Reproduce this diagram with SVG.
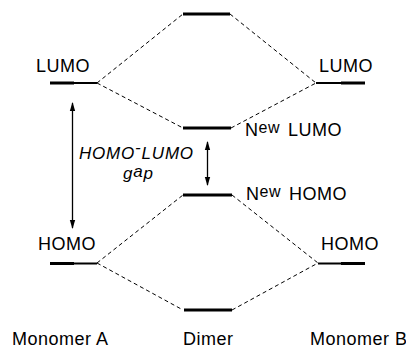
<svg xmlns="http://www.w3.org/2000/svg" width="406" height="349" viewBox="0 0 406 349">
<style>
.t{font-family:"Liberation Sans",Arial,sans-serif;font-size:18px;fill:#000;letter-spacing:0.5px}
.it{font-family:"Liberation Sans",Arial,sans-serif;font-size:17px;font-style:italic;fill:#000;letter-spacing:0.8px}
.lv{stroke:#000;stroke-width:3;fill:none}
.lt{stroke:#000;stroke-width:2;fill:none}
.d{stroke:#000;stroke-width:1;fill:none;stroke-dasharray:4 3}
.ar{stroke:#000;stroke-width:1.3;fill:none}
</style>
<defs>
<marker id="ah" viewBox="0 0 10 10" refX="9" refY="5" markerWidth="9" markerHeight="9" markerUnits="userSpaceOnUse" orient="auto-start-reverse">
<path d="M0,2 L10,5 L0,8 Z" fill="#000"/>
</marker>
</defs>
<g id="connectors">
<line class="d" x1="97" y1="83" x2="183" y2="14"/>
<line class="d" x1="97" y1="83" x2="183" y2="128"/>
<line class="d" x1="230" y1="14" x2="316" y2="83"/>
<line class="d" x1="231" y1="128" x2="316" y2="83"/>
<line class="d" x1="97" y1="263" x2="183" y2="195"/>
<line class="d" x1="97" y1="263" x2="183" y2="310"/>
<line class="d" x1="232" y1="195" x2="318" y2="263"/>
<line class="d" x1="232" y1="310" x2="318" y2="263"/>
<line class="ar" x1="72.5" y1="103" x2="72.5" y2="228" marker-start="url(#ah)" marker-end="url(#ah)"/>
<line class="ar" x1="207.5" y1="142" x2="207.5" y2="185" marker-start="url(#ah)" marker-end="url(#ah)"/>
</g>
<g id="lumoA">
<line class="lv" x1="50" y1="83" x2="74" y2="83"/>
<line class="lt" x1="73" y1="83" x2="97" y2="83"/>
<text class="t" x="36" y="72">LUMO</text>
</g>
<g id="lumoB">
<line class="lt" x1="316" y1="83" x2="342" y2="83"/>
<line class="lv" x1="341" y1="83" x2="365" y2="83"/>
<text class="t" x="319" y="72">LUMO</text>
</g>
<g id="homoA">
<line class="lv" x1="50" y1="263.5" x2="74" y2="263.5"/>
<line class="lt" x1="73" y1="263.5" x2="97" y2="263.5"/>
<text class="t" x="38" y="250">HOMO</text>
</g>
<g id="homoB">
<line class="lt" x1="318" y1="263.5" x2="342" y2="263.5"/>
<line class="lv" x1="341" y1="263.5" x2="365" y2="263.5"/>
<text class="t" x="321" y="250">HOMO</text>
</g>
<g id="dimerTop">
<line class="lv" x1="183" y1="14" x2="230" y2="14"/>
</g>
<g id="newLumo">
<line class="lv" x1="183" y1="128" x2="231" y2="128"/>
<text class="t" x="245" y="136">N<tspan dy="-3.5" font-size="16">ew</tspan><tspan dy="3.5" x="288">LUMO</tspan></text>
</g>
<g id="newHomo">
<line class="lv" x1="183" y1="195" x2="232" y2="195"/>
<text class="t" x="246" y="200">N<tspan dy="-3.5" font-size="16">ew</tspan><tspan dy="3.5" x="289">HOMO</tspan></text>
</g>
<g id="dimerBottom">
<line class="lv" x1="184" y1="310" x2="232" y2="310"/>
</g>
<g id="gap">
<text class="it" x="79" y="158.5">HOMO<tspan dy="-6">-</tspan><tspan dy="6">LUMO</tspan></text>
<text class="it" x="123" y="179" font-size="16">g<tspan dy="-2">a</tspan><tspan dy="2">p</tspan></text>
</g>
<g id="labels">
<text class="t" x="12" y="345">Monomer A</text>
<text class="t" x="183" y="345">Dimer</text>
<text class="t" x="310" y="345">Monomer B</text>
</g>
</svg>
